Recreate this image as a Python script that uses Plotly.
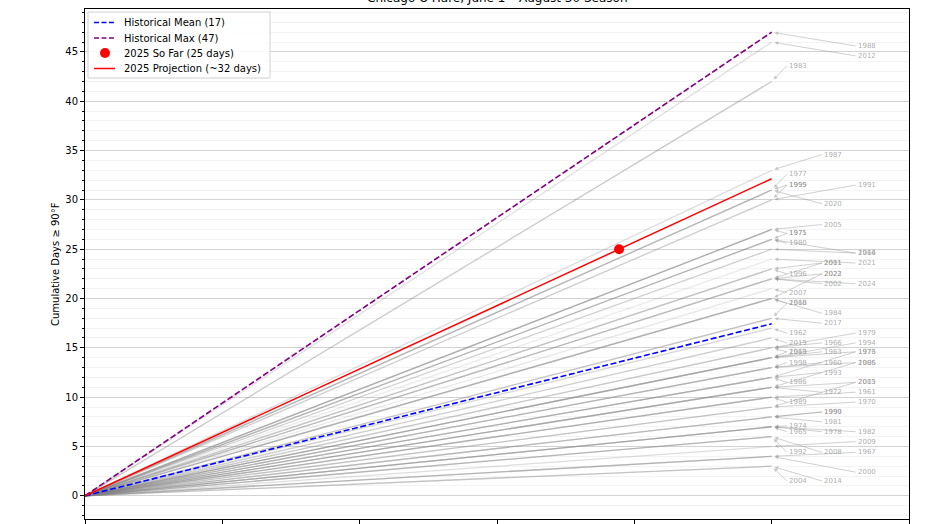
import numpy as np
import plotly.graph_objects as go

# ---------------- data ----------------
years = [1988, 2012, 1983, 1987, 1977, 1959, 1995, 2020, 1991, 2005,
         1971, 1975, 1980, 2016, 1964, 2021, 2011, 2001, 1996, 2023,
         2022, 2002, 2024, 2007, 2010, 1968, 1984, 2017, 1962, 1979,
         2019, 1966, 1994, 2013, 1969, 1963, 1973, 1976, 1998, 1960,
         2006, 1985, 1993, 1986, 2003, 2015, 1972, 1961, 1970, 1989,
         1990, 1999, 1981, 1974, 1965, 1978, 1982, 2009, 1992, 2008,
         1967, 2000, 2004, 2014]
totals = [47, 46, 42, 33, 31, 31, 30, 31, 30, 27,
          26, 27, 26, 26, 25, 24, 23, 22, 23, 22,
          20, 22, 22, 21, 20, 18, 20, 18, 17, 15,
          16, 15, 14, 15, 14, 14, 14, 12, 13, 13,
          13, 11, 12, 12, 11, 9, 11, 10, 9, 10,
          8, 8, 8, 7, 7, 7, 7, 5, 6, 6,
          4, 4, 3, 3]
season_days = 90          # June 1 -> August 30 (day index of season end)
so_far_day = 70
so_far_value = 25
y_ticks = [0, 5, 10, 15, 20, 25, 30, 35, 40, 45]

# ---------------- label layout (text positions, not data) ----------------
col_x = {"A": 92.0, "B": 96.6, "C": 101.0}
label_pos = {
    1988: ("C", 45.6), 2012: ("C", 44.6), 1983: ("A", 43.6), 1987: ("B", 34.6),
    1977: ("A", 32.6), 1959: ("A", 31.5), 1995: ("A", 31.5), 2020: ("B", 29.6),
    1991: ("C", 31.5), 2005: ("B", 27.5), 1971: ("A", 26.6), 1975: ("A", 26.6),
    1980: ("A", 25.6), 2016: ("C", 24.6), 1964: ("C", 24.6), 2021: ("C", 23.6),
    2011: ("B", 23.6), 2001: ("B", 23.6), 1996: ("A", 22.5), 2023: ("B", 22.5),
    2022: ("B", 22.5), 2002: ("B", 21.5), 2024: ("C", 21.5), 2007: ("A", 20.6),
    2010: ("A", 19.5), 1968: ("A", 19.5), 1984: ("B", 18.5), 2017: ("B", 17.5),
    1962: ("A", 16.5), 1979: ("C", 16.5), 2019: ("A", 15.5), 1966: ("B", 15.5),
    1994: ("C", 15.5), 2013: ("A", 14.6), 1969: ("A", 14.6), 1963: ("B", 14.6),
    1973: ("C", 14.6), 1976: ("C", 14.6), 1998: ("A", 13.5), 1960: ("B", 13.5),
    2006: ("C", 13.5), 1985: ("C", 13.5), 1993: ("B", 12.5), 1986: ("A", 11.5),
    2003: ("C", 11.5), 2015: ("C", 11.5), 1972: ("B", 10.5), 1961: ("C", 10.5),
    1970: ("C", 9.5), 1989: ("A", 9.5), 1990: ("B", 8.5), 1999: ("B", 8.5),
    1981: ("B", 7.5), 1974: ("A", 7.1), 1965: ("A", 6.5), 1978: ("B", 6.5),
    1982: ("C", 6.5), 2009: ("C", 5.5), 1992: ("A", 4.4), 2008: ("B", 4.4),
    1967: ("C", 4.4), 2000: ("C", 2.4), 2004: ("A", 1.5), 2014: ("B", 1.5),
}

mean_val = float(np.mean(totals))
max_val = max(totals)
projection = so_far_value / so_far_day * season_days

W, H = 932, 524
ML, MR, MT, MB = 85, 23, 9, 5
PW, PH = W - ML - MR, H - MT - MB


def px2paper(px, py):
    return (px - ML) / PW, (H - MB - py) / PH


fig = go.Figure()

for yr, tot in zip(years, totals):
    a = 0.12 + 0.30 * ((yr * 7) % 11) / 10.0
    fig.add_trace(go.Scatter(
        x=[0, season_days], y=[0, tot], mode="lines",
        line=dict(color=f"rgba(128,128,128,{a:.2f})", width=1.3),
        showlegend=False, hoverinfo="skip"))

series_style = [
    (f"Historical Mean ({round(mean_val)})", "blue", "dash"),
    (f"Historical Max ({max_val})", "purple", "dash"),
    (f"2025 So Far ({so_far_value} days)", "red", "dot"),
    (f"2025 Projection (~{round(projection)} days)", "red", "solid"),
]

fig.add_trace(go.Scatter(
    x=[0, season_days], y=[0, mean_val], mode="lines",
    line=dict(color="blue", width=1.6, dash="6px,2.6px"),
    name=series_style[0][0], showlegend=False))
fig.add_trace(go.Scatter(
    x=[0, season_days], y=[0, max_val], mode="lines",
    line=dict(color="purple", width=1.6, dash="6px,2.6px"),
    name=series_style[1][0], showlegend=False))
fig.add_trace(go.Scatter(
    x=[0, season_days], y=[0, projection], mode="lines",
    line=dict(color="red", width=1.5),
    name=series_style[3][0], showlegend=False))
fig.add_trace(go.Scatter(
    x=[so_far_day], y=[so_far_value], mode="markers",
    marker=dict(color="red", size=10),
    name=series_style[2][0], showlegend=False))

annotations = []
for yr, tot in zip(years, totals):
    col, ty = label_pos[yr]
    annotations.append(dict(
        x=season_days, y=tot, xref="x", yref="y",
        ax=col_x[col], ay=ty, axref="x", ayref="y",
        text=str(yr), showarrow=True, xanchor="left", yanchor="middle",
        font=dict(family="DejaVu Sans", size=7, color="rgba(150,150,150,0.8)"),
        arrowhead=2, arrowsize=0.9, arrowwidth=0.8, standoff=3,
        arrowcolor="rgba(140,140,140,0.5)"))

annotations.append(dict(
    text="Chicago O'Hare, June 1 \u2013 August 30 Season",
    xref="paper", yref="paper", x=0.5, y=1, yanchor="bottom", yshift=2,
    showarrow=False, font=dict(family="DejaVu Sans", size=12, color="black")))
annotations.append(dict(
    text="Cumulative Days \u2265 90\u00b0F", textangle=-90,
    xref="paper", yref="paper", x=0, y=0.5, xanchor="center", yanchor="middle",
    xshift=-30, showarrow=False,
    font=dict(family="DejaVu Sans", size=10, color="black")))

# ---- legend drawn in paper coordinates ----
shapes = []
bx0, by0 = px2paper(88, 12)
bx1, by1 = px2paper(270, 78)
shapes.append(dict(type="rect", xref="paper", yref="paper",
                   x0=bx0, x1=bx1, y0=by1, y1=by0,
                   line=dict(color="#d0d0d0", width=1),
                   fillcolor="rgba(255,255,255,0.85)", layer="above"))
row_y = [22.5, 38, 53, 68.5]
for (label, color, kind), ry in zip(series_style, row_y):
    lx0, ly = px2paper(94, ry)
    lx1, _ = px2paper(115, ry)
    if kind == "dot":
        cx, _ = px2paper(105, ry)
        shapes.append(dict(type="circle", xref="paper", yref="paper",
                           xsizemode="pixel", ysizemode="pixel",
                           xanchor=cx, yanchor=ly, x0=-5, x1=5, y0=-5, y1=5,
                           fillcolor=color, line=dict(color=color, width=0),
                           layer="above"))
    else:
        shapes.append(dict(type="line", xref="paper", yref="paper",
                           x0=lx0, x1=lx1, y0=ly, y1=ly, layer="above",
                           line=dict(color=color, width=1.5,
                                     dash="5px,2.5px" if kind == "dash" else "solid")))
    tx, _ = px2paper(122, ry)
    annotations.append(dict(text=label, xref="paper", yref="paper", x=tx, y=ly,
                            xanchor="left", yanchor="middle", showarrow=False,
                            font=dict(family="DejaVu Sans", size=10, color="black")))

fig.update_layout(
    width=W, height=H,
    margin=dict(l=ML, r=MR, t=MT, b=MB),
    plot_bgcolor="white", paper_bgcolor="white",
    font=dict(family="DejaVu Sans", size=10, color="black"),
    annotations=annotations, shapes=shapes,
    showlegend=False,
)

fig.update_xaxes(
    range=[0, season_days * 1.2], tickmode="array",
    tickvals=[0, 18, 36, 54, 72, 90, 108], showticklabels=False,
    ticks="outside", ticklen=4, tickcolor="black",
    showgrid=False, zeroline=False, showline=True, linecolor="black",
    linewidth=1, mirror=True, automargin=False)

fig.update_yaxes(
    range=[-max_val * 0.05, max_val * 1.05], tickmode="array", tickvals=y_ticks,
    ticks="outside", ticklen=4, tickcolor="black",
    showgrid=True, gridcolor="#d3d3d3", gridwidth=1,
    zeroline=False, showline=True, linecolor="black", linewidth=1,
    mirror=True, automargin=False,
    minor=dict(dtick=1, tick0=0, ticks="outside", ticklen=2, tickcolor="black",
               showgrid=True, gridcolor="#f3f3f3", gridwidth=1))

fig.write_html("out.html", config={"displayModeBar": False},
               post_script="document.body.style.margin='0';")
